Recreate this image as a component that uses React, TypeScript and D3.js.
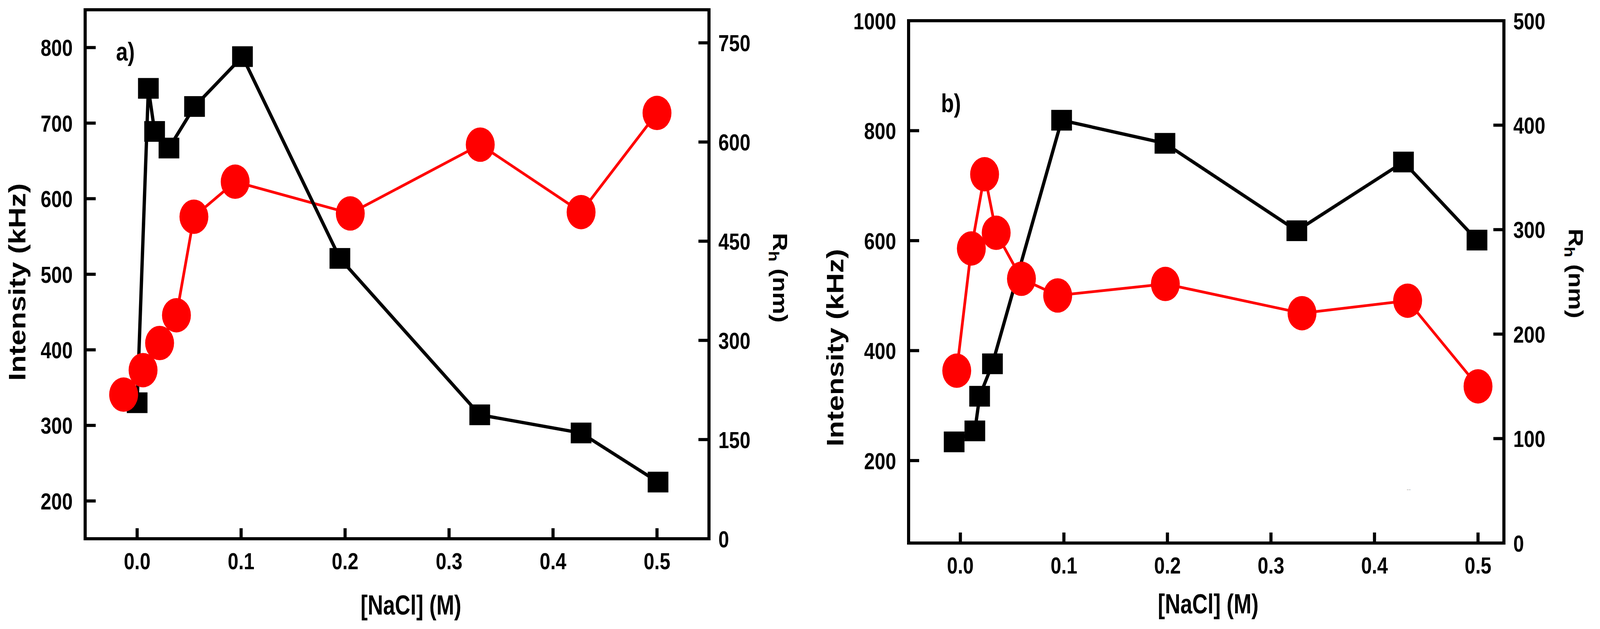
import React from 'react';
import * as d3 from 'd3';

// ---------- DATA ----------
// Panel a
const aSquareX = [0.0, 0.0108, 0.0168, 0.0306, 0.0552, 0.1013, 0.195, 0.3295, 0.427, 0.501];
const aSquareIntensity = [330, 746, 689, 667, 722, 788, 521, 314, 290, 225];
const aCircleX = [-0.013, 0.0057, 0.0216, 0.0378, 0.0546, 0.0943, 0.205, 0.33, 0.427, 0.5];
const aCircleRh = [218, 255, 296, 338, 487, 540, 492, 596, 494, 644];
// Panel b
const bSquareX = [-0.006, 0.014, 0.0186, 0.031, 0.0978, 0.1976, 0.325, 0.428, 0.499];
const bSquareIntensity = [234, 254, 317, 376, 819, 777, 618, 743, 601];
const bCircleX = [-0.0035, 0.0106, 0.0234, 0.0346, 0.059, 0.094, 0.198, 0.33, 0.432, 0.5];
const bCircleRh = [165, 282, 353, 297, 253, 237, 248, 220, 232, 150];

// Ticks
const xTicks = [0, 0.1, 0.2, 0.3, 0.4, 0.5];
const aLeftTicks = [200, 300, 400, 500, 600, 700, 800];
const aRightTicks = [0, 150, 300, 450, 600, 750];
const bLeftTicks = [200, 400, 600, 800, 1000];
const bRightTicks = [0, 100, 200, 300, 400, 500];

const xTitle = '[NaCl] (M)';
const yLeftTitle = 'Intensity (kHz)';

// ---------- STYLE ----------
const W = 4151;
const H = 1610;
const FONT = "'Liberation Sans', Arial, Helvetica, sans-serif";
const SX = 0.82; // horizontal squeeze of the source figure
const AXW = 8;
const TICK = 27;
const SQ = 53;
const RX = 37;
const RY = 44;
const RED = '#ff0000';

type PanelCfg = {
  left: number; right: number; top: number; bottom: number;
  xDomain: [number, number];
  yLDomain: [number, number];
  yRDomain: [number, number];
  leftTicks: number[]; rightTicks: number[];
  sqX: number[]; sqY: number[];
  ciX: number[]; ciY: number[];
  label: string; labelX: number; labelY: number;
  leftTitleX: number; leftTitleY: number;
  rightTitleX: number; rightTitleY: number;
  xTitleX: number; xTitleY: number;
};

function Panel({ c }: { c: PanelCfg }) {
  const x = d3.scaleLinear().domain(c.xDomain).range([c.left, c.right]);
  const yL = d3.scaleLinear().domain(c.yLDomain).range([c.bottom, c.top]);
  const yR = d3.scaleLinear().domain(c.yRDomain).range([c.bottom, c.top]);

  const sqPts = c.sqX.map((v, i) => [x(v), yL(c.sqY[i])] as [number, number]);
  const ciPts = c.ciX.map((v, i) => [x(v), yR(c.ciY[i])] as [number, number]);
  const line = d3.line();

  const txt = (tx: number, ty: number, extra = '', s = SX) => `translate(${tx},${ty}) scale(${s},1)${extra}`;

  return (
    <g>
      {/* frame */}
      <rect x={c.left} y={c.top} width={c.right - c.left} height={c.bottom - c.top}
        fill="none" stroke="#000" strokeWidth={AXW} />
      {/* bottom ticks */}
      {xTicks.map((t) => (
        <g key={'xt' + t}>
          <line x1={x(t)} x2={x(t)} y1={c.bottom} y2={c.bottom - TICK} stroke="#000" strokeWidth={AXW} />
          <text transform={txt(x(t), c.bottom + 78)} textAnchor="middle" fontFamily={FONT}
            fontWeight="bold" fontSize={60} fill="#000">{t.toFixed(1)}</text>
        </g>
      ))}
      {/* left ticks */}
      {c.leftTicks.map((t) => (
        <g key={'yl' + t}>
          <line x1={c.left} x2={c.left + TICK} y1={yL(t)} y2={yL(t)} stroke="#000" strokeWidth={AXW} />
          <text transform={txt(c.left - 32, yL(t))} textAnchor="end" dy="0.36em" fontFamily={FONT}
            fontWeight="bold" fontSize={60} fill="#000">{t}</text>
        </g>
      ))}
      {/* right ticks */}
      {c.rightTicks.map((t) => (
        <g key={'yr' + t}>
          <line x1={c.right} x2={c.right - TICK} y1={yR(t)} y2={yR(t)} stroke="#000" strokeWidth={AXW} />
          <text transform={txt(c.right + 24, yR(t))} textAnchor="start" dy="0.36em" fontFamily={FONT}
            fontWeight="bold" fontSize={60} fill="#000">{t}</text>
        </g>
      ))}

      {/* data */}
      <path d={line(ciPts) || ''} fill="none" stroke={RED} strokeWidth={7} />
      <path d={line(sqPts) || ''} fill="none" stroke="#000" strokeWidth={8.5} />
      {sqPts.map((p, i) => (
        <rect key={'s' + i} x={p[0] - SQ / 2} y={p[1] - SQ / 2} width={SQ} height={SQ} fill="#000" />
      ))}
      {ciPts.map((p, i) => (
        <ellipse key={'c' + i} cx={p[0]} cy={p[1]} rx={RX} ry={RY} fill={RED} />
      ))}

      {/* panel label */}
      <text transform={txt(c.labelX, c.labelY)} fontFamily={FONT} fontWeight="bold" fontSize={66} fill="#000">{c.label}</text>

      {/* axis titles */}
      <text transform={txt(c.xTitleX, c.xTitleY, '', 0.78)} textAnchor="middle" fontFamily={FONT}
        fontWeight="bold" fontSize={70} fill="#000">{xTitle}</text>
      <text transform={txt(c.leftTitleX, c.leftTitleY, ' rotate(-90)')} textAnchor="middle" dy="0.36em"
        fontFamily={FONT} fontWeight="bold" fontSize={74} fill="#000">{yLeftTitle}</text>
      <text transform={txt(c.rightTitleX, c.rightTitleY, ' rotate(90)')} textAnchor="middle" dy="0.36em"
        fontFamily={FONT} fontWeight="bold" fontSize={64} fill="#000">
        <tspan>R</tspan>
        <tspan fontSize={44} dy="0.3em">h</tspan>
        <tspan dy="-0.2em"> (nm)</tspan>
      </text>
    </g>
  );
}

const panelA: PanelCfg = {
  left: 218, right: 1815, top: 25, bottom: 1379,
  xDomain: [-0.05, 0.55], yLDomain: [150, 850], yRDomain: [0, 800],
  leftTicks: aLeftTicks, rightTicks: aRightTicks,
  sqX: aSquareX, sqY: aSquareIntensity, ciX: aCircleX, ciY: aCircleRh,
  label: 'a)', labelX: 297, labelY: 155,
  leftTitleX: 43, leftTitleY: 722,
  rightTitleX: 1998, rightTitleY: 711,
  xTitleX: 1052, xTitleY: 1573,
};

const panelB: PanelCfg = {
  left: 2326, right: 3850, top: 53, bottom: 1390,
  xDomain: [-0.05, 0.525], yLDomain: [50, 1000], yRDomain: [0, 500],
  leftTicks: bLeftTicks, rightTicks: bRightTicks,
  sqX: bSquareX, sqY: bSquareIntensity, ciX: bCircleX, ciY: bCircleRh,
  label: 'b)', labelX: 2409, labelY: 287,
  leftTitleX: 2137, leftTitleY: 890,
  rightTitleX: 4035, rightTitleY: 700,
  xTitleX: 3093, xTitleY: 1570,
};

export default function App() {
  return (
    <svg width={W} height={H} viewBox={`0 0 ${W} ${H}`}
      style={{ position: 'absolute', left: 0, top: 0, background: '#fff', display: 'block' }}>
      <rect x={0} y={0} width={W} height={H} fill="#fff" />
      <Panel c={panelA} />
      <Panel c={panelB} />
      <text x={3601} y={1258} fontFamily={FONT} fontSize={16} fill="#aaa">--</text>
    </svg>
  );
}
